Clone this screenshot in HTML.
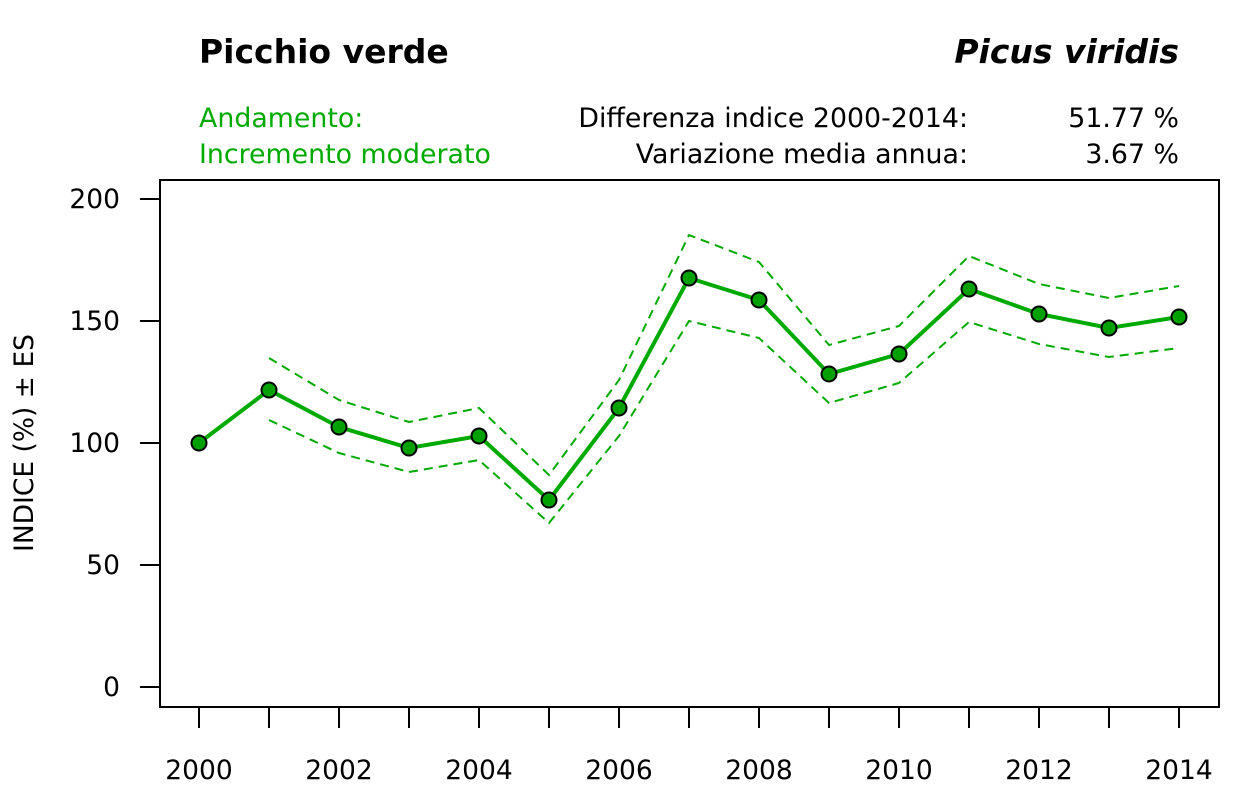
<!DOCTYPE html>
<html><head><meta charset="utf-8"><style>
html,body{margin:0;padding:0;background:#fff;}
svg{display:block;font-family:"DejaVu Sans",Verdana,sans-serif;}
</style></head><body>
<svg width="1259" height="787" viewBox="0 0 1259 787" xmlns="http://www.w3.org/2000/svg">
<text x="199" y="63" font-size="33" font-weight="bold" fill="#000">Picchio verde</text>
<text x="1179" y="63" font-size="33" font-weight="bold" font-style="italic" fill="#000" text-anchor="end">Picus viridis</text>
<g font-size="26.8">
<text x="199" y="127" fill="#00aa00">Andamento:</text>
<text x="199" y="163" fill="#00aa00">Incremento moderato</text>
<text x="968" y="127" text-anchor="end">Differenza indice 2000-2014:</text>
<text x="968" y="163" text-anchor="end">Variazione media annua:</text>
<text x="1179" y="127" text-anchor="end">51.77 %</text>
<text x="1179" y="163" text-anchor="end">3.67 %</text>
</g>
<rect x="160" y="180" width="1059" height="527" fill="none" stroke="#000" stroke-width="2"/>
<g stroke="#000" stroke-width="2">
<line x1="140" y1="199" x2="160" y2="199"/><line x1="140" y1="321" x2="160" y2="321"/>
<line x1="140" y1="443" x2="160" y2="443"/><line x1="140" y1="565" x2="160" y2="565"/>
<line x1="140" y1="687" x2="160" y2="687"/>
</g>
<g font-size="26.5" text-anchor="end">
<text x="120" y="208">200</text><text x="120" y="330">150</text><text x="120" y="452">100</text>
<text x="120" y="574">50</text><text x="120" y="696">0</text>
</g>
<text transform="translate(33,443) rotate(-90)" font-size="26.5" text-anchor="middle">INDICE (%) ± ES</text>
<g stroke="#000" stroke-width="2">
<line x1="199" y1="707" x2="199" y2="728"/><line x1="269" y1="707" x2="269" y2="728"/>
<line x1="339" y1="707" x2="339" y2="728"/><line x1="409" y1="707" x2="409" y2="728"/>
<line x1="479" y1="707" x2="479" y2="728"/><line x1="549" y1="707" x2="549" y2="728"/>
<line x1="619" y1="707" x2="619" y2="728"/><line x1="689" y1="707" x2="689" y2="728"/>
<line x1="759" y1="707" x2="759" y2="728"/><line x1="829" y1="707" x2="829" y2="728"/>
<line x1="899" y1="707" x2="899" y2="728"/><line x1="969" y1="707" x2="969" y2="728"/>
<line x1="1039" y1="707" x2="1039" y2="728"/><line x1="1109" y1="707" x2="1109" y2="728"/>
<line x1="1179" y1="707" x2="1179" y2="728"/>
</g>
<g font-size="26.5" text-anchor="middle">
<text x="199" y="779">2000</text><text x="339" y="779">2002</text><text x="479" y="779">2004</text>
<text x="619" y="779">2006</text><text x="759" y="779">2008</text><text x="899" y="779">2010</text>
<text x="1039" y="779">2012</text><text x="1179" y="779">2014</text>
</g>
<g fill="none" stroke="#00aa00" stroke-width="2" stroke-dasharray="9,6">
<polyline points="269,358 339,400 409,422 479,408 549,475 619,380 689,235 759,262 829,345 899,326 969,256 1039,284 1109,298 1179,286"/>
<polyline points="269,420 339,453 409,472 479,460 549,523 619,436 689,321 759,338 829,403 899,383 969,322 1039,344 1109,357 1179,348"/>
</g>
<polyline fill="none" stroke="#00aa00" stroke-width="4" points="199,443 269,390 339,427 409,448 479,436 549,500 619,408 689,278 759,300 829,374 899,354 969,289 1039,314 1109,328 1179,317"/>
<g fill="#00a000" stroke="#000" stroke-width="2">
<circle cx="199" cy="443" r="7.5"/><circle cx="269" cy="390" r="7.5"/><circle cx="339" cy="427" r="7.5"/>
<circle cx="409" cy="448" r="7.5"/><circle cx="479" cy="436" r="7.5"/><circle cx="549" cy="500" r="7.5"/>
<circle cx="619" cy="408" r="7.5"/><circle cx="689" cy="278" r="7.5"/><circle cx="759" cy="300" r="7.5"/>
<circle cx="829" cy="374" r="7.5"/><circle cx="899" cy="354" r="7.5"/><circle cx="969" cy="289" r="7.5"/>
<circle cx="1039" cy="314" r="7.5"/><circle cx="1109" cy="328" r="7.5"/><circle cx="1179" cy="317" r="7.5"/>
</g>
</svg>
</body></html>
